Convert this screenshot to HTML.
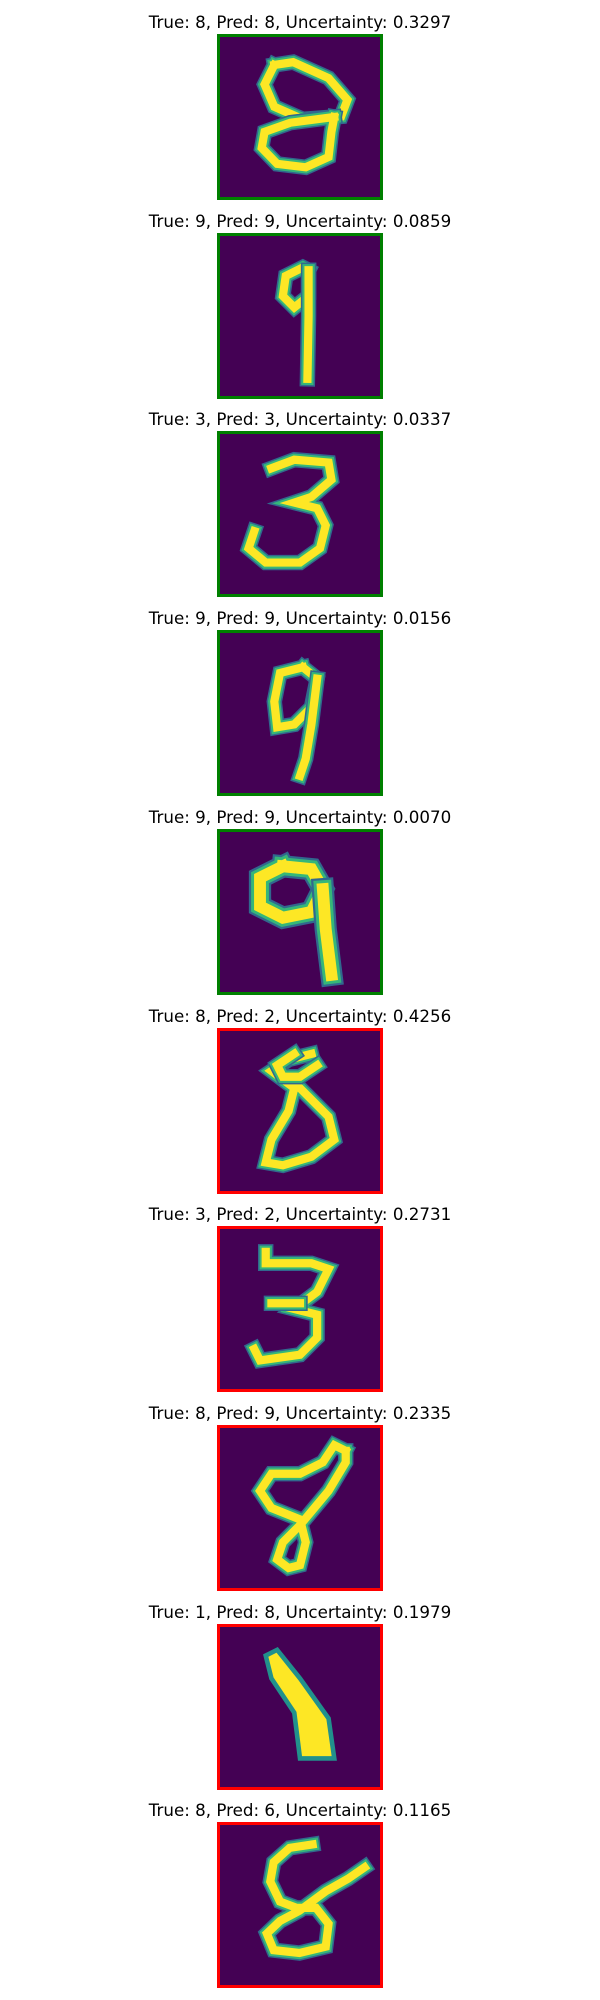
<!DOCTYPE html>
<html><head><meta charset="utf-8">
<style>
html,body{margin:0;padding:0;background:#fff;}
#root{position:relative;width:600px;height:2000px;overflow:hidden;}
.title{position:absolute;left:0;width:600px;text-align:center;font-family:"DejaVu Sans","Liberation Sans",sans-serif;font-size:16.7px;color:#000;line-height:20px;}
.box{position:absolute;left:217px;width:166px;height:166px;box-sizing:border-box;border:3px solid;background:#440154;}
.box svg{display:block;width:100%;height:100%;}
</style></head>
<body>
<div id="root"></div>
<script>
const trueLabels = [8, 9, 3, 9, 9, 8, 3, 8, 1, 8];
const predLabels = [8, 9, 3, 9, 9, 2, 2, 9, 8, 6];
const uncertainties = ["0.3297", "0.0859", "0.0337", "0.0156", "0.0070", "0.4256", "0.2731", "0.2335", "0.1979", "0.1165"];
const strokes = [
 [[[9.5,4.9],[12.8,4.4],[19,7.2],[22.3,11],[21.2,13.9],[14.5,14.4],[9.5,12.2],[7.8,8.3],[9.5,4.9]],[[20,14],[19.5,16.6],[19,21],[15,22.8],[10,22.2],[7.3,19.4],[7.8,16.6],[12.3,15],[20,14]]],
 [[[15.5,6],[14.5,5.5],[11.5,7],[11,10.5],[13,12.5],[15.5,10.5],[15.5,6]],[[15.5,6],[15.5,14],[15.3,25]]],
 [[[9,6],[13,4.5],[19,5],[19.5,8],[16,11],[13,12],[17,13],[18.5,16],[17.5,20],[14,22.5],[8,22.5],[5,20],[6,17]]],
 [[[14.5,6],[10.5,7],[9.5,12],[10,16.5],[13,16],[16,13],[17,8],[14.5,6]],[[17,8],[16,16],[15,22],[14,25]]],
 [[[11,6],[7,8],[7,13],[11,15],[16,14],[18,10],[16,6.5],[11,6]],[[18,10],[18.5,17],[19.5,25]]],
 [[[16,4],[12,5],[9,7],[13,10],[12,14],[9,19],[8,23],[11,23.5],[16,22],[20,19],[19,15],[15,11],[13,9]],[[13,4],[10,6],[11,8],[14,8],[17,6]]],
 [[[8,4],[8,6],[16,6],[19,7],[17,11],[13,14],[17,15],[17,19],[14,22],[7,23],[6,21]],[[9,13],[14,13]]],
 [[[22,4],[20,3],[18,6],[14,8],[9,8],[7,11],[9,14],[14,16],[15,20],[14,24],[12,24.5],[10,23],[11,20],[14,17],[19,11],[22,6],[22,4]]],
 [[[8,5],[10,4],[14,9],[19,16],[20,23],[14,23],[13,15],[9,9],[8,5]]],
 [[[16.2,3.4],[12.2,4],[9.4,6.5],[8.8,9.9],[10.5,13.4],[13.4,14.5],[16.8,14.5],[19,17.3],[18.5,21.3],[13.9,22.4],[9.4,21.9],[8.2,19],[10.5,16.8],[13.9,15],[18.5,11.6],[22.4,9.4],[25.3,7.4]]]
];
const root = document.getElementById('root');
const pitch = 198.7;
for (let i = 0; i < trueLabels.length; i++) {
  const t = document.createElement('div');
  t.className = 'title';
  
  
  t.style.top = (12 + pitch * i) + 'px';
  t.textContent = 'True: ' + trueLabels[i] + ', Pred: ' + predLabels[i] + ', Uncertainty: ' + uncertainties[i];
  root.appendChild(t);
  const b = document.createElement('div');
  b.className = 'box';
  
  
  b.style.top = (34 + pitch * i) + 'px';
  b.style.borderColor = trueLabels[i] === predLabels[i] ? '#008000' : '#ff0000';
  const thick = i === 4 ? 1.3 : 0.9;
  let svg = '<svg viewBox="0 0 28 28" preserveAspectRatio="none">';
  const polys = strokes[i];
  const isBlob = i === 8;
  for (const p of polys) {
    const pts = p.map(q => q.join(',')).join(' ');
    if (isBlob) {
      svg += '<polygon points="' + pts + '" fill="#fde725" stroke="#21918c" stroke-width="0.8"/>';
    } else {
      svg += '<polyline points="' + pts + '" fill="none" stroke="#31688e" stroke-width="' + (3.0*thick) + '" stroke-linejoin="miter" stroke-linecap="square"/>';
      svg += '<polyline points="' + pts + '" fill="none" stroke="#35b779" stroke-width="' + (2.4*thick) + '" stroke-linejoin="miter" stroke-linecap="square"/>';
      svg += '<polyline points="' + pts + '" fill="none" stroke="#fde725" stroke-width="' + (1.6*thick) + '" stroke-linejoin="miter" stroke-linecap="square"/>';
    }
  }
  svg += '</svg>';
  b.innerHTML = svg;
  root.appendChild(b);
}
</script>
</body></html>
